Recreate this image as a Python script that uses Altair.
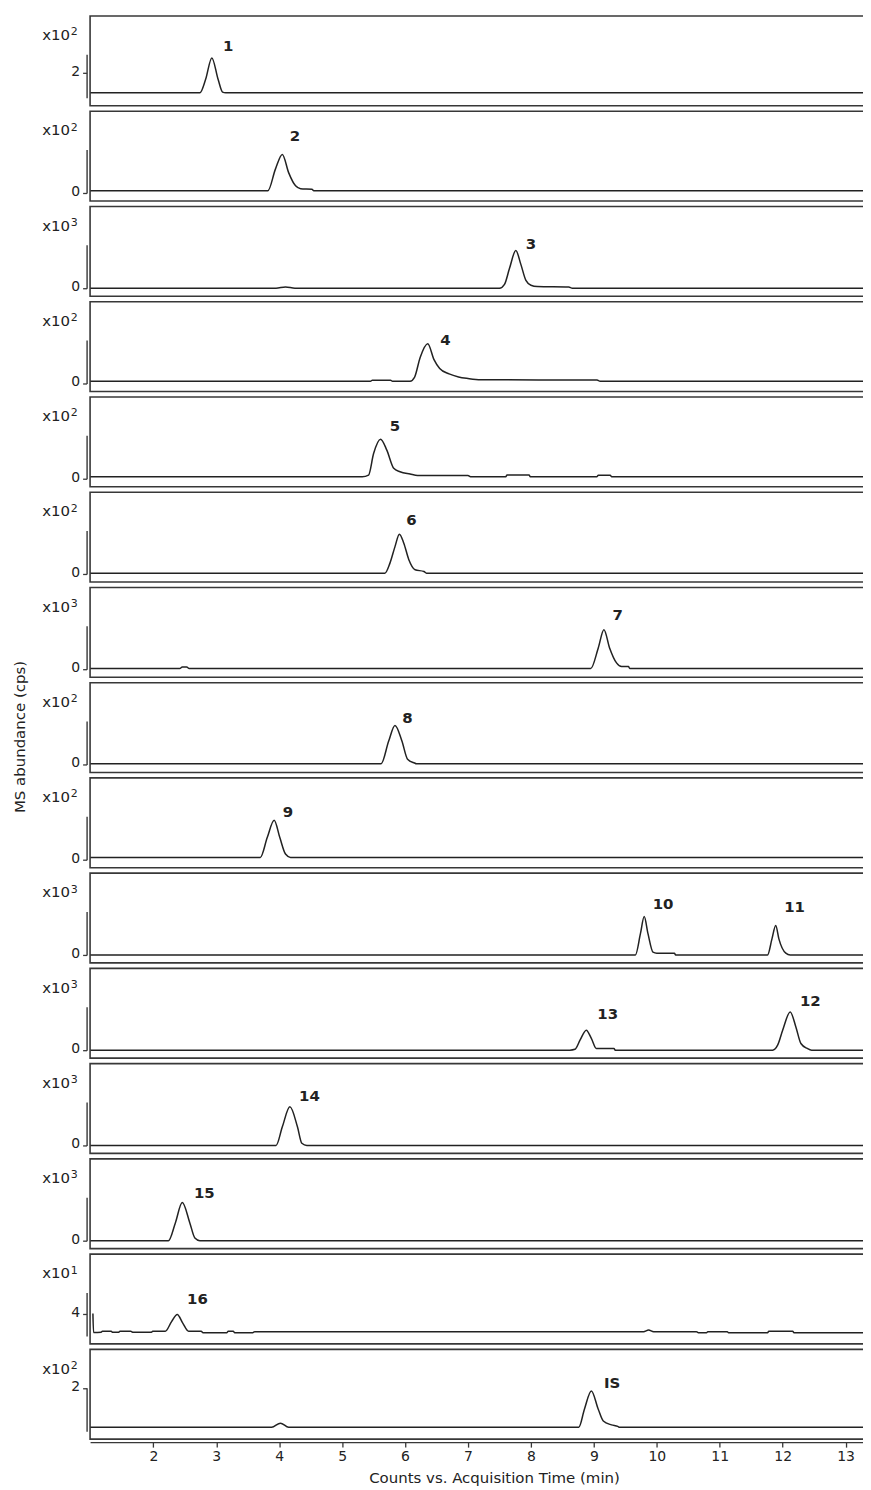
import altair as alt
import pandas as pd

FONT = "DejaVu Sans"
INK = "#222222"
EDGE = "#383838"

# ---- chromatogram traces: time (min) and abundance (in units of each panel's multiplier)
P1_T = [1.0, 2.74, 2.83, 2.93, 3.03, 3.10, 3.15, 13.33]
P1_V = [1.04, 1.04, 1.68, 2.73, 1.68, 1.075, 1.04, 1.04]
P2_T = [1.0, 3.82, 3.94, 4.05, 4.15, 4.26, 4.34, 4.52, 4.55, 13.33]
P2_V = [0.05, 0.05, 0.55, 0.89, 0.47, 0.165, 0.10, 0.087, 0.05, 0.05]
P3_T = [1.0, 3.95, 4.10, 4.25, 7.50, 7.58, 7.66, 7.76, 7.84, 7.92, 8.00, 8.10, 8.60, 8.66, 13.33]
P3_V = [0, 0, 0.03, 0, 0, 0.09, 0.46, 0.87, 0.55, 0.18, 0.07, 0.04, 0.03, 0, 0]
P4_T = [1.0, 5.45, 5.48, 5.77, 5.80, 6.08, 6.15, 6.24, 6.36, 6.46, 6.55, 6.70, 6.85, 7.00, 7.20, 9.05, 9.10, 13.33]
P4_V = [0.05, 0.05, 0.074, 0.074, 0.05, 0.05, 0.14, 0.60, 0.915, 0.55, 0.345, 0.22, 0.15, 0.115, 0.087, 0.078, 0.05, 0.05]
P5_T = [1.0, 5.32, 5.42, 5.50, 5.61, 5.71, 5.82, 5.92, 6.08, 6.20, 7.00, 7.04, 7.60, 7.62, 7.97, 7.99, 9.05, 9.07, 9.26, 9.28, 13.33]
P5_V = [0.046, 0.046, 0.085, 0.58, 0.91, 0.66, 0.24, 0.16, 0.108, 0.076, 0.076, 0.046, 0.046, 0.085, 0.085, 0.046, 0.046, 0.08, 0.08, 0.046, 0.046]
P6_T = [1.0, 5.68, 5.76, 5.84, 5.91, 5.98, 6.06, 6.16, 6.30, 6.34, 13.33]
P6_V = [0.018, 0.018, 0.25, 0.63, 0.915, 0.71, 0.33, 0.097, 0.057, 0.018, 0.018]
P7_T = [1.0, 2.42, 2.46, 2.53, 2.57, 8.95, 9.07, 9.16, 9.25, 9.36, 9.44, 9.55, 9.57, 13.33]
P7_V = [0.016, 0.016, 0.053, 0.053, 0.016, 0.016, 0.49, 0.91, 0.49, 0.145, 0.062, 0.062, 0.016, 0.016]
P8_T = [1.0, 5.62, 5.74, 5.84, 5.95, 6.04, 6.15, 6.18, 13.33]
P8_V = [0.018, 0.018, 0.54, 0.90, 0.54, 0.12, 0.034, 0.018, 0.018]
P9_T = [1.0, 3.70, 3.81, 3.92, 4.01, 4.10, 4.18, 13.33]
P9_V = [0.053, 0.053, 0.51, 0.91, 0.51, 0.13, 0.053, 0.053]
P10_T = [1.0, 9.66, 9.74, 9.80, 9.86, 9.94, 10.00, 10.28, 10.30, 11.76, 11.83, 11.89, 11.94, 12.05, 12.12, 13.33]
P10_V = [0, 0, 0.49, 0.885, 0.49, 0.064, 0.04, 0.04, 0, 0, 0.37, 0.68, 0.37, 0.04, 0, 0]
P11_T = [1.0, 8.62, 8.70, 8.78, 8.88, 8.96, 9.04, 9.32, 9.34, 11.84, 11.92, 12.00, 12.12, 12.21, 12.29, 12.39, 12.46, 13.33]
P11_V = [0, 0, 0.02, 0.23, 0.46, 0.27, 0.04, 0.04, 0, 0, 0.115, 0.46, 0.88, 0.535, 0.154, 0.04, 0, 0]
P12_T = [1.0, 3.95, 4.05, 4.17, 4.29, 4.36, 4.44, 13.33]
P12_V = [0, 0, 0.43, 0.89, 0.43, 0.05, 0, 0]
P13_T = [1.0, 2.24, 2.35, 2.46, 2.58, 2.66, 2.74, 13.33]
P13_V = [0, 0, 0.41, 0.88, 0.41, 0.062, 0, 0]
P14_T = [1.04, 1.05, 1.17, 1.19, 1.33, 1.35, 1.45, 1.47, 1.64, 1.67, 1.97, 1.99, 2.19, 2.29,
         2.38, 2.47, 2.56, 2.76, 2.79, 3.17, 3.19, 3.27, 3.29, 3.58, 3.61, 9.79, 9.87, 9.95,
         10.63, 10.66, 10.79, 10.81, 11.12, 11.14, 11.76, 11.78, 12.16, 12.18, 13.33]
P14_V = [4.03, 3.16, 3.17, 3.22, 3.22, 3.17, 3.17, 3.22, 3.22, 3.17, 3.17, 3.22, 3.22, 3.66,
         3.99, 3.58, 3.22, 3.22, 3.15, 3.15, 3.22, 3.22, 3.15, 3.15, 3.19, 3.19, 3.27, 3.19,
         3.19, 3.15, 3.15, 3.19, 3.19, 3.15, 3.15, 3.21, 3.21, 3.15, 3.15]
P15_T = [1.0, 3.88, 4.02, 4.15, 8.76, 8.85, 8.96, 9.07, 9.15, 9.28, 9.38, 9.41, 13.33]
P15_V = [0.18, 0.18, 0.37, 0.18, 0.18, 1.01, 1.85, 1.01, 0.47, 0.29, 0.22, 0.18, 0.18]

TIMES = [P1_T, P2_T, P3_T, P4_T, P5_T, P6_T, P7_T, P8_T, P9_T, P10_T, P11_T, P12_T, P13_T, P14_T, P15_T]
VALUES = [P1_V, P2_V, P3_V, P4_V, P5_V, P6_V, P7_V, P8_V, P9_V, P10_V, P11_V, P12_V, P13_V, P14_V, P15_V]

# scale multiplier exponent shown as "x10^n" above each y axis
EXPONENT = ["2", "2", "3", "2", "2", "2", "3", "2", "2", "3", "3", "3", "3", "1", "2"]
TICK = [2, 0, 0, 0, 0, 0, 0, 0, 0, 0, 0, 0, 0, 4, 2]
YDOMAIN = [[0.8, 2.9]] + [[0, 1]] * 12 + [[3, 5], [0, 2]]

# ---- peak labels
LABEL_TEXT = ["1", "2", "3", "4", "5", "6", "7", "8", "9", "10", "11", "13", "12", "14", "15", "16", "IS"]
LABEL_PANEL = [0, 1, 2, 3, 4, 5, 6, 7, 8, 9, 9, 10, 10, 11, 12, 13, 14]
LABEL_T = [3.19, 4.25, 8.00, 6.64, 5.84, 6.10, 9.38, 6.04, 4.14, 10.10, 12.19, 9.22, 12.44, 4.48, 2.81, 2.70, 9.29]
LABEL_V = [3.30, 1.32, 1.03, 1.007, 1.21, 1.25, 1.26, 1.08, 1.09, 1.18, 1.11, 0.84, 1.13, 1.14, 1.10, 4.70, 2.21]

XTICKS = list(range(2, 14))
X_TITLE = "Counts vs. Acquisition Time (min)"
Y_TITLE = "MS abundance (cps)"

labels = pd.DataFrame({"label": LABEL_TEXT, "panel": LABEL_PANEL, "t": LABEL_T, "v": LABEL_V})

XS = alt.Scale(domain=[0.995, 13.34], nice=False, zero=False)
W, H = 779, 90


def panel(i):
    df = pd.DataFrame({"t": TIMES[i], "v": VALUES[i]})
    ys = alt.Scale(domain=YDOMAIN[i], range=[82, 38.5], nice=False, zero=False)
    if i == 14:
        xaxis = alt.Axis(values=XTICKS, format="d", tickSize=5, offset=3, labelPadding=2,
                         title=X_TITLE, titlePadding=7, titleX=405, titleAlign="center",
                         titleFontSize=15)
    else:
        xaxis = None
    yaxis = alt.Axis(values=[TICK[i]], format="d", tickSize=4, offset=3.5, labelPadding=3,
                     labelOffset=-1.5, title=None)
    x = alt.X("t:Q", scale=XS, axis=xaxis)
    y = alt.Y("v:Q", scale=ys, axis=yaxis)
    line = alt.Chart(df).mark_line(interpolate="monotone", color=INK, strokeWidth=1.5).encode(x=x, y=y)
    lab = alt.Chart(labels[labels.panel == i]).mark_text(
        font=FONT, fontWeight="bold", fontSize=15, color=INK, align="center", baseline="middle"
    ).encode(x=x, y=y, text="label:N")
    base10 = alt.Chart(pd.DataFrame({"m": ["x10"]})).mark_text(
        font=FONT, fontSize=15, color=INK, align="right", baseline="alphabetic"
    ).encode(x=alt.value(-20), y=alt.value(24.3), text="m:N")
    expo = alt.Chart(pd.DataFrame({"e": [EXPONENT[i]]})).mark_text(
        font=FONT, fontSize=11, color=INK, align="left", baseline="alphabetic"
    ).encode(x=alt.value(-19.5), y=alt.value(19.5), text="e:N")
    layers = [line, lab, base10, expo]
    if i == 7:
        ytitle = alt.Chart(pd.DataFrame({"s": [Y_TITLE]})).mark_text(
            font=FONT, fontSize=15, color=INK, angle=270, align="center", baseline="middle"
        ).encode(x=alt.value(-70.5), y=alt.value(54.5), text="s:N")
        layers.append(ytitle)
    return alt.layer(*layers).properties(width=W, height=H)


chart = alt.vconcat(*[panel(i) for i in range(15)], spacing=5.5, bounds="flush").properties(
    padding={"left": 3.3, "top": 5, "right": -8, "bottom": 0}
).configure_view(
    stroke=EDGE, strokeWidth=1.6
).configure_axis(
    grid=False, labelFont=FONT, labelFontSize=14, labelColor=INK,
    titleFont=FONT, titleFontSize=14, titleFontWeight="normal", titleColor=INK,
    domainColor=EDGE, domainWidth=1.4, tickColor=EDGE, tickWidth=1.3
)

chart.save("out.html", embed_options={"renderer": "svg", "actions": False})
